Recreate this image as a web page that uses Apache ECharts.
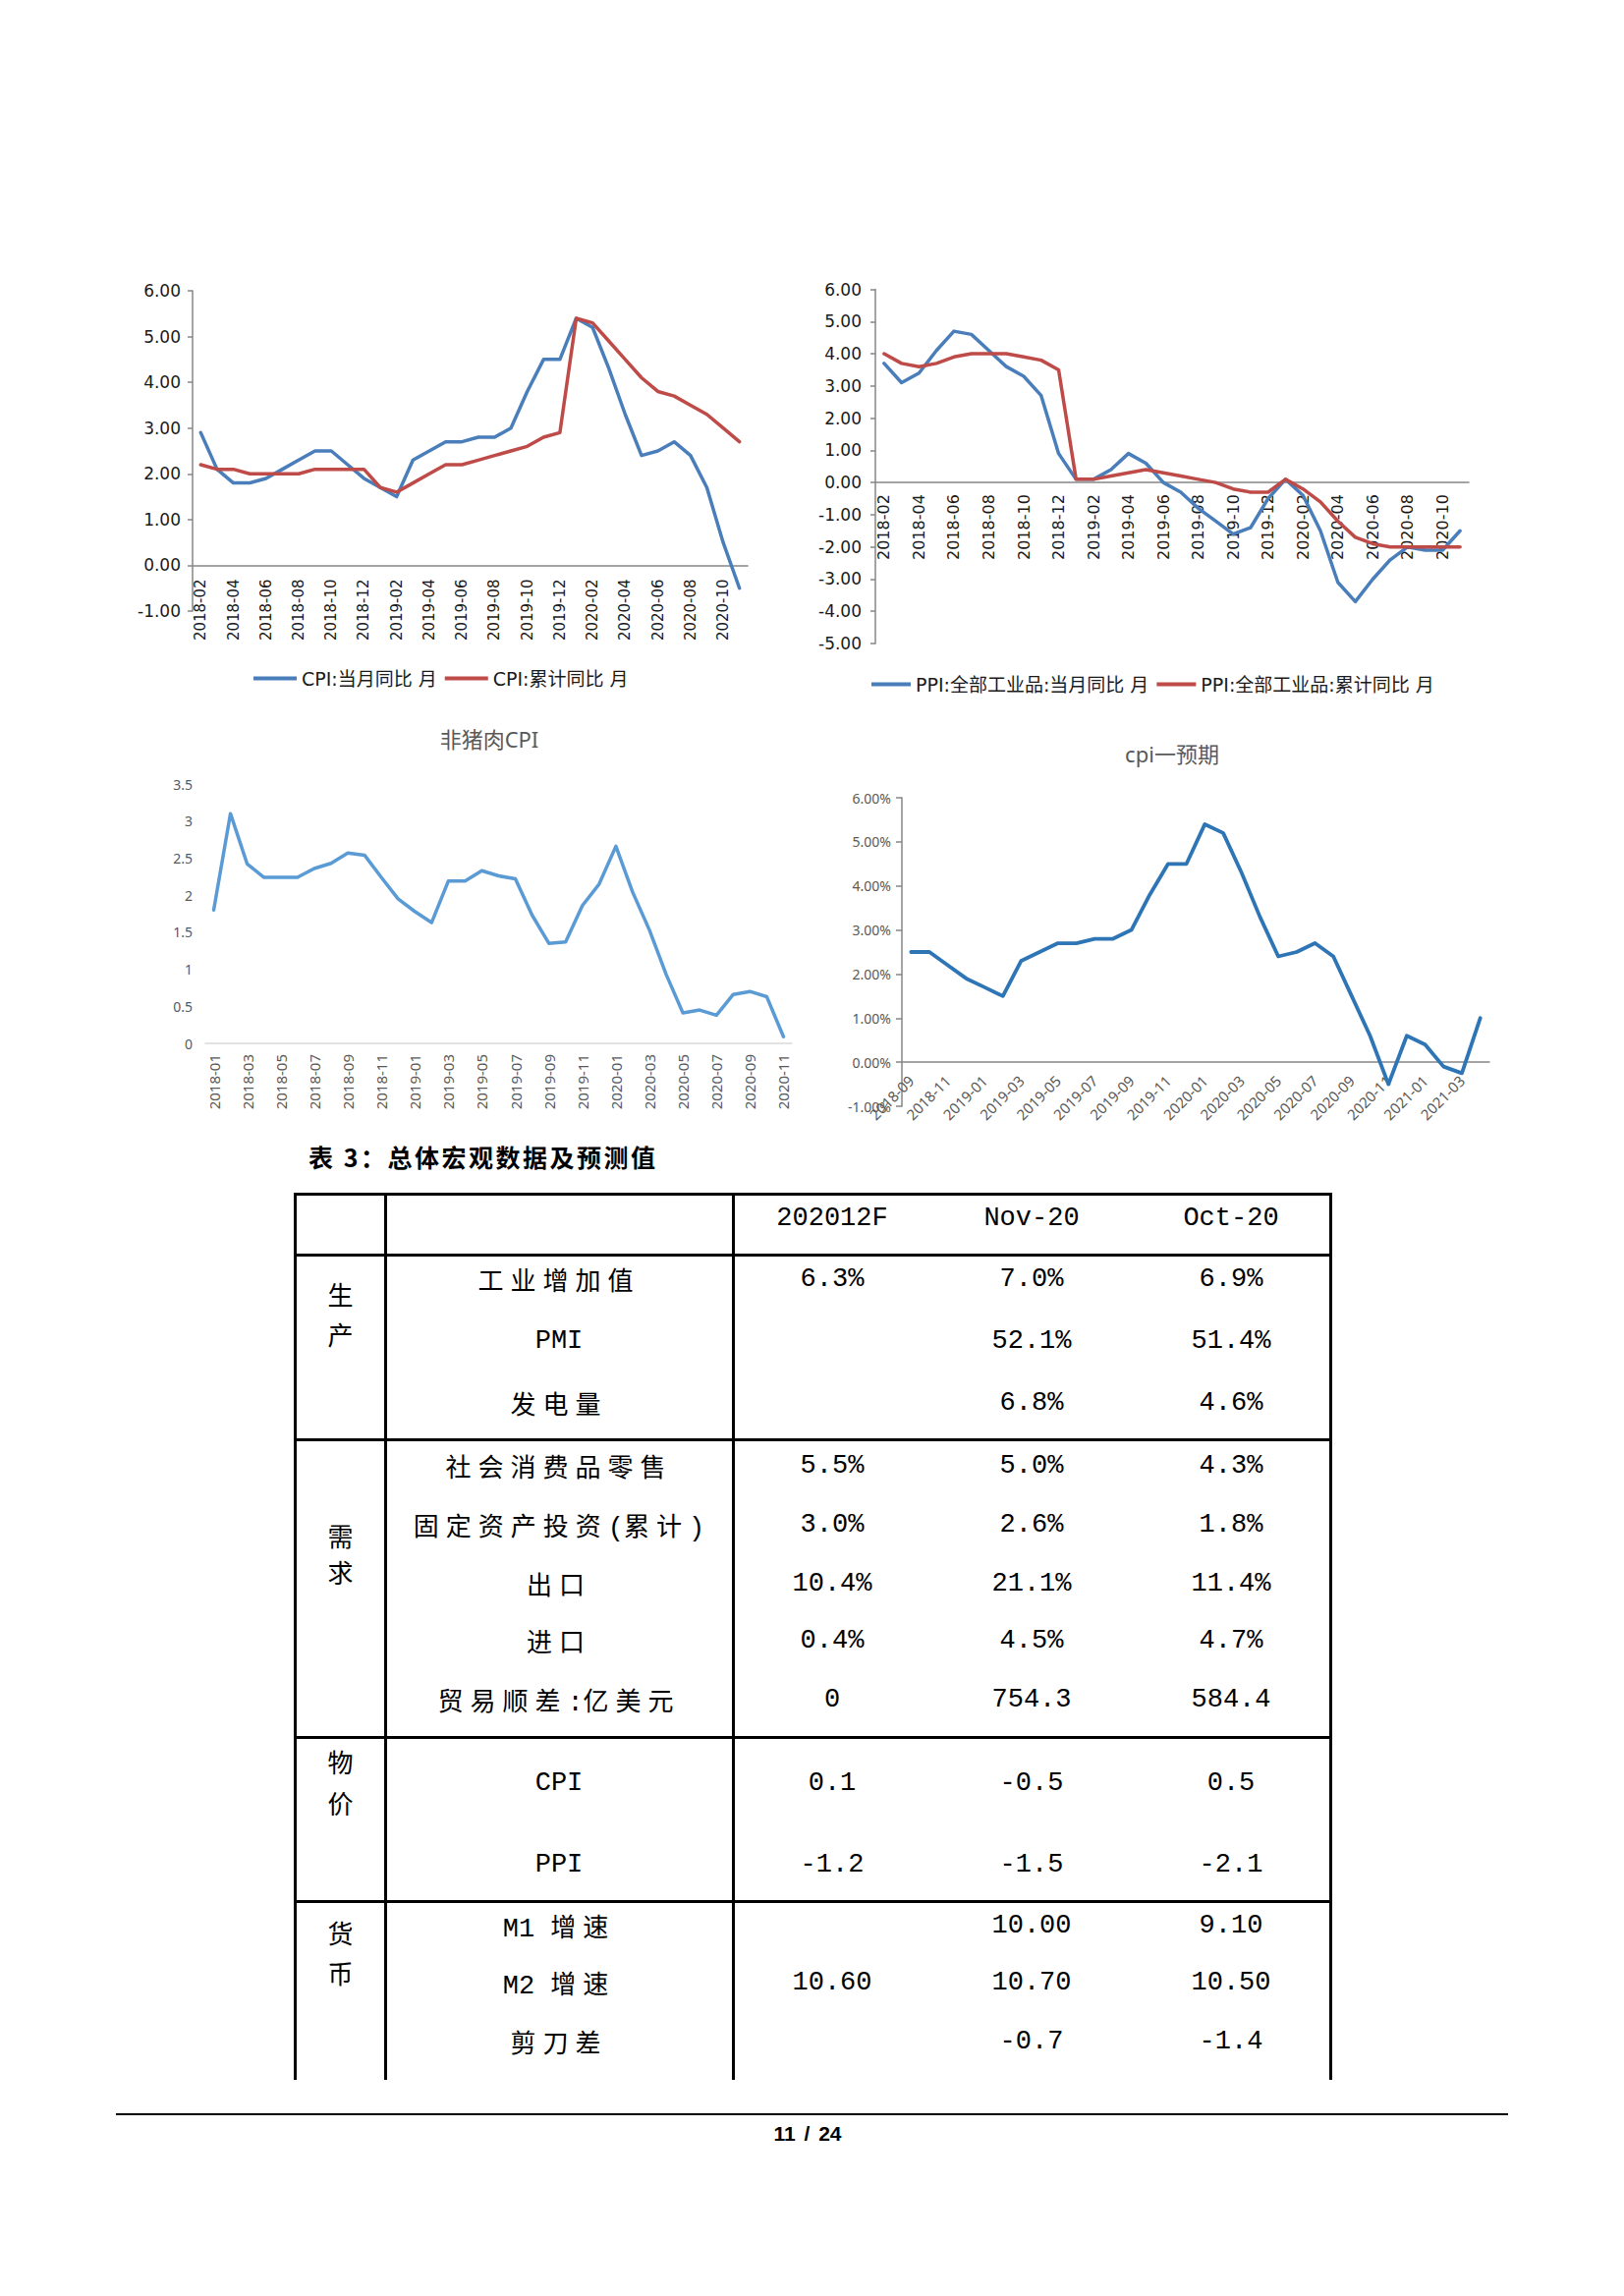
<!DOCTYPE html>
<html>
<head>
<meta charset="utf-8">
<title>CPI / PPI</title>
<script src="https://cdn.jsdelivr.net/npm/echarts@6/dist/echarts.min.js"></script>
<style>
  html, body { margin: 0; padding: 0; background: #fff; }
  #page { position: relative; width: 1653px; height: 2337px; background: #fff; overflow: hidden; }
  #charts { position: absolute; left: 0; top: 0; width: 1653px; height: 1160px; }
  .ln { position: absolute; background: #000; }
  .cell { position: absolute; width: 400px; height: 40px; line-height: 40px; text-align: center; white-space: nowrap; color: #000; }
  .cjk { font-family: 'Noto Sans CJK SC'; font-size: 26px; letter-spacing: 7px; }
  .lat { font-family: 'Liberation Mono'; font-size: 27px; }
  #caption { position: absolute; left: 314px; top: 1160px; font-family: 'Noto Sans CJK SC'; font-weight: bold; font-size: 25px; letter-spacing: 2.5px; line-height: 34px; color: #000; }
  #footer { position: absolute; left: 722px; width: 200px; top: 2158px; text-align: center; font-family: 'Liberation Sans'; font-weight: bold; font-size: 21px; word-spacing: 3px; line-height: 28px; color: #000; }
</style>
</head>
<body>
<div id="page">
  <div id="charts"></div>
  <div id="caption">表 3：总体宏观数据及预测值</div>
  <div id="table"></div>
  <div id="footer">11 / 24</div>
</div>
<script>
// 图1、图2 横轴：2018-02 ~ 2020-11
var months1 = ['2018-02','2018-03','2018-04','2018-05','2018-06','2018-07','2018-08','2018-09','2018-10','2018-11','2018-12',
  '2019-01','2019-02','2019-03','2019-04','2019-05','2019-06','2019-07','2019-08','2019-09','2019-10','2019-11','2019-12',
  '2020-01','2020-02','2020-03','2020-04','2020-05','2020-06','2020-07','2020-08','2020-09','2020-10','2020-11'];
var cpiMonth = [2.9,2.1,1.8,1.8,1.9,2.1,2.3,2.5,2.5,2.2,1.9, 1.7,1.5,2.3,2.5,2.7,2.7,2.8,2.8,3.0,3.8,4.5,4.5, 5.4,5.2,4.3,3.3,2.4,2.5,2.7,2.4,1.7,0.5,-0.5];
var cpiCum = [2.2,2.1,2.1,2.0,2.0,2.0,2.0,2.1,2.1,2.1,2.1, 1.7,1.6,1.8,2.0,2.2,2.2,2.3,2.4,2.5,2.6,2.8,2.9, 5.4,5.3,4.9,4.5,4.1,3.8,3.7,3.5,3.3,3.0,2.7];
var ppiMonth = [3.7,3.1,3.4,4.1,4.7,4.6,4.1,3.6,3.3,2.7,0.9, 0.1,0.1,0.4,0.9,0.6,0.0,-0.3,-0.8,-1.2,-1.6,-1.4,-0.5, 0.1,-0.4,-1.5,-3.1,-3.7,-3.0,-2.4,-2.0,-2.1,-2.1,-1.5];
var ppiCum = [4.0,3.7,3.6,3.7,3.9,4.0,4.0,4.0,3.9,3.8,3.5, 0.1,0.1,0.2,0.3,0.4,0.3,0.2,0.1,0.0,-0.2,-0.3,-0.3, 0.1,-0.2,-0.6,-1.2,-1.7,-1.9,-2.0,-2.0,-2.0,-2.0,-2.0];

// 图3 非猪肉CPI：2018-01 ~ 2020-11
var months3 = ['2018-01','2018-02','2018-03','2018-04','2018-05','2018-06','2018-07','2018-08','2018-09','2018-10','2018-11','2018-12',
  '2019-01','2019-02','2019-03','2019-04','2019-05','2019-06','2019-07','2019-08','2019-09','2019-10','2019-11','2019-12',
  '2020-01','2020-02','2020-03','2020-04','2020-05','2020-06','2020-07','2020-08','2020-09','2020-10','2020-11'];
var nonPorkCpi = [1.8,3.1,2.42,2.24,2.24,2.24,2.36,2.43,2.57,2.54,2.24,1.95, 1.78,1.63,2.19,2.19,2.33,2.26,2.22,1.73,1.35,1.37,1.86,2.15,
  2.66,2.04,1.53,0.93,0.41,0.45,0.38,0.66,0.7,0.63,0.09];

// 图4 cpi一预期：2018-09 ~ 2021-04（单位 %）
var months4 = ['2018-09','2018-10','2018-11','2018-12',
  '2019-01','2019-02','2019-03','2019-04','2019-05','2019-06','2019-07','2019-08','2019-09','2019-10','2019-11','2019-12',
  '2020-01','2020-02','2020-03','2020-04','2020-05','2020-06','2020-07','2020-08','2020-09','2020-10','2020-11','2020-12',
  '2021-01','2021-02','2021-03','2021-04'];
var cpiForecast = [2.5,2.5,2.2,1.9, 1.7,1.5,2.3,2.5,2.7,2.7,2.8,2.8,3.0,3.8,4.5,4.5, 5.4,5.2,4.3,3.3,2.4,2.5,2.7,2.4,1.5,0.6,-0.5,0.6, 0.4,-0.1,-0.25,1.0];

// 表3
var tableCols = ['202012F', 'Nov-20', 'Oct-20'];
var tableGroups = ['生产', '需求', '物价', '货币'];
var tableItems = ['工业增加值','PMI','发电量','社会消费品零售','固定资产投资(累计)','出口','进口','贸易顺差:亿美元','CPI','PPI','M1 增速','M2 增速','剪刀差'];
var valF   = ['6.3%','','','5.5%','3.0%','10.4%','0.4%','0','0.1','-1.2','','10.60',''];
var valNov = ['7.0%','52.1%','6.8%','5.0%','2.6%','21.1%','4.5%','754.3','-0.5','-1.5','10.00','10.70','-0.7'];
var valOct = ['6.9%','51.4%','4.6%','4.3%','1.8%','11.4%','4.7%','584.4','0.5','-2.1','9.10','10.50','-1.4'];

var BLUE = '#4A7EBB', RED = '#BE4B48', GRAY = '#868686';
var SANS = "'DejaVu Sans', 'Noto Sans CJK SC'";
var NOTO = "'Noto Sans', 'Noto Sans CJK SC'";

var grids = [
  { left: 196, top: 296, width: 565, height: 326 },
  { left: 891, top: 294.5, width: 604, height: 360.5 },
  { left: 209, top: 798, width: 597, height: 264 },
  { left: 918, top: 812, width: 598, height: 314 }
];
var yRange = [[-1, 6], [-5, 6], [0, 3.5], [-1, 6]];

// 横轴放在 0 线上（连同刻度和标签一起上移）
function zeroOffset(i) {
  var r = yRange[i];
  return -grids[i].height * (0 - r[0]) / (r[1] - r[0]);
}
function excelX(grid, data, o) {
  return {
    gridIndex: grid, type: 'category', data: data, boundaryGap: true,
    offset: zeroOffset(grid),
    axisLine: { onZero: false, lineStyle: { color: o.axisColor, width: 1.5 } },
    axisTick: { interval: 1, length: o.tick, lineStyle: { color: o.axisColor, width: 1.5 } },
    axisLabel: { interval: 1, rotate: o.rotate, margin: o.margin, fontSize: o.fontSize, color: o.color, fontFamily: o.font },
    splitLine: { show: false }
  };
}
function valueY(grid, o) {
  return {
    gridIndex: grid, type: 'value', min: yRange[grid][0], max: yRange[grid][1], interval: o.interval,
    axisLine: { show: o.line, lineStyle: { color: GRAY, width: 1.5 } },
    axisTick: { show: o.line, length: o.tick, lineStyle: { color: GRAY, width: 1.5 } },
    splitLine: { show: false },
    axisLabel: { margin: o.margin, fontSize: o.fontSize, color: o.color, fontFamily: o.font, formatter: o.fmt }
  };
}
function lineSeries(name, xi, data, color, w) {
  return {
    name: name, type: 'line', xAxisIndex: xi, yAxisIndex: xi, data: data,
    symbol: 'none', smooth: false, color: color,
    lineStyle: { color: color, width: w, join: 'round', cap: 'round' }
  };
}
var fix2 = function (v) { return v.toFixed(2); };
var pct2 = function (v) { return v.toFixed(2) + '%'; };

var chart = echarts.init(document.getElementById('charts'), null, { renderer: 'svg' });
var option = {
  animation: false,
  backgroundColor: 'transparent',
  textStyle: { fontFamily: SANS },
  title: [
    { text: '非猪肉CPI', left: 493, top: 736, textAlign: 'center',
      textStyle: { fontSize: 22, fontWeight: 'normal', color: '#595959', fontFamily: NOTO } },
    { text: 'cpi一预期', left: 1188, top: 751, textAlign: 'center',
      textStyle: { fontSize: 22, fontWeight: 'normal', color: '#595959', fontFamily: NOTO } }
  ],
  legend: [
    { data: ['CPI:当月同比 月', 'CPI:累计同比 月'], left: 258, top: 681, padding: 0,
      icon: 'rect', itemWidth: 44, itemHeight: 4, itemGap: 8,
      textStyle: { fontSize: 19, color: '#1a1a1a', fontFamily: SANS } },
    { data: ['PPI:全部工业品:当月同比 月', 'PPI:全部工业品:累计同比 月'], left: 887, top: 687, padding: 0,
      icon: 'rect', itemWidth: 40, itemHeight: 4, itemGap: 8,
      textStyle: { fontSize: 19, color: '#1a1a1a', fontFamily: SANS } }
  ],
  grid: grids,
  xAxis: [
    excelX(0, months1, { axisColor: GRAY, tick: 8, rotate: 90, margin: 14, fontSize: 15, color: '#1a1a1a', font: SANS }),
    excelX(1, months1, { axisColor: GRAY, tick: 8, rotate: 90, margin: 12, fontSize: 16, color: '#1a1a1a', font: SANS }),
    excelX(2, months3, { axisColor: '#d9d9d9', tick: 7, rotate: 90, margin: 11, fontSize: 15, color: '#595959', font: NOTO }),
    excelX(3, months4, { axisColor: GRAY, tick: 7, rotate: 45, margin: 16, fontSize: 15, color: '#595959', font: NOTO })
  ],
  yAxis: [
    valueY(0, { interval: 1, line: true, tick: 5, margin: 12, fontSize: 17, color: '#1a1a1a', font: SANS, fmt: fix2 }),
    valueY(1, { interval: 1, line: true, tick: 5, margin: 14, fontSize: 17, color: '#1a1a1a', font: SANS, fmt: fix2 }),
    valueY(2, { interval: 0.5, line: false, tick: 0, margin: 13, fontSize: 14, color: '#595959', font: NOTO }),
    valueY(3, { interval: 1, line: true, tick: 6, margin: 11, fontSize: 14, color: '#595959', font: NOTO, fmt: pct2 })
  ],
  series: [
    lineSeries('CPI:当月同比 月', 0, cpiMonth, BLUE, 3.5),
    lineSeries('CPI:累计同比 月', 0, cpiCum, RED, 3.5),
    lineSeries('PPI:全部工业品:当月同比 月', 1, ppiMonth, BLUE, 3.5),
    lineSeries('PPI:全部工业品:累计同比 月', 1, ppiCum, RED, 3.5),
    lineSeries('非猪肉CPI', 2, nonPorkCpi, '#5B9BD5', 3.5),
    lineSeries('cpi一预期', 3, cpiForecast, '#2E75B6', 3.8)
  ]
};
chart.setOption(option);

// 表格版式
var tblLeft = 300, tblRight = 1354, tblTop = 1215.7, tblBottom = 2116.7;
var hLines = [1215.7, 1277.7, 1465, 1768.3, 1935];
var vLines = [300, 392, 746, 1354];
var colX = [346, 569, 847, 1050, 1253];
var headY = 1240;
var rowY = [1301.7, 1365, 1428.3, 1491.7, 1551.7, 1611.7, 1670, 1730, 1815, 1898.3, 1960, 2018.3, 2078.3];
var groupY = [[1316.7, 1358.3], [1563.3, 1600], [1793.3, 1835], [1966.7, 2008.3]];

var table = document.getElementById('table');
function addLine(x, y, w, h) {
  var d = document.createElement('div');
  d.className = 'ln';
  d.style.left = x + 'px'; d.style.top = y + 'px';
  d.style.width = w + 'px'; d.style.height = h + 'px';
  table.appendChild(d);
}
hLines.forEach(function (y) { addLine(tblLeft - 1.5, y - 1.5, tblRight - tblLeft + 3, 3); });
vLines.forEach(function (x) { addLine(x - 1.5, tblTop - 1.5, 3, tblBottom - tblTop + 1.5); });

function runs(text) {
  var re = /[\u3400-\u9fff\uff00-\uffef]+|[^\u3400-\u9fff\uff00-\uffef]+/g;
  return text.match(re) || [];
}
function addCell(cx, cy, text) {
  if (!text) return;
  var d = document.createElement('div');
  d.className = 'cell';
  d.style.left = (cx - 200) + 'px';
  d.style.top = (cy - 20) + 'px';
  runs(text).forEach(function (r) {
    var s = document.createElement('span');
    s.className = /[\u3400-\u9fff\uff00-\uffef]/.test(r) ? 'cjk' : 'lat';
    s.textContent = r;
    d.appendChild(s);
  });
  table.appendChild(d);
}
tableCols.forEach(function (c, i) { addCell(colX[i + 2], headY, c); });
tableGroups.forEach(function (g, i) {
  addCell(colX[0] + 4, groupY[i][0], g.charAt(0));
  addCell(colX[0] + 4, groupY[i][1], g.charAt(1));
});
tableItems.forEach(function (t, i) {
  addCell(colX[1], rowY[i], t);
  addCell(colX[2], rowY[i], valF[i]);
  addCell(colX[3], rowY[i], valNov[i]);
  addCell(colX[4], rowY[i], valOct[i]);
});

// 页脚
var foot = document.createElement('div');
foot.className = 'ln';
foot.style.left = '118px'; foot.style.top = '2150.5px';
foot.style.width = '1417px'; foot.style.height = '2.5px';
document.getElementById('page').appendChild(foot);
</script>
</body>
</html>
